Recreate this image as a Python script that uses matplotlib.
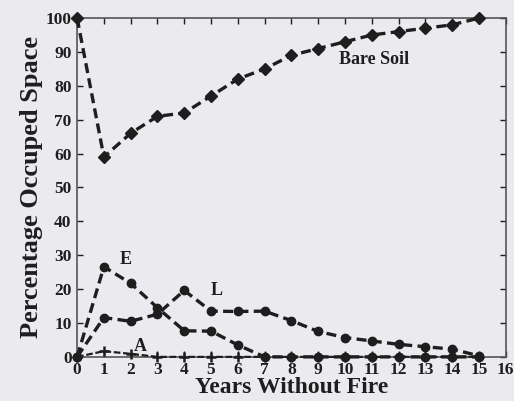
import matplotlib
matplotlib.use("Agg")
import matplotlib.pyplot as plt

years = list(range(0, 16))
bare_soil = [100, 59, 66, 71, 72, 77, 82, 85, 89, 91, 93, 95, 96, 97, 98, 100]
series_e = [0, 26.6, 21.7, 14.5, 7.7, 7.6, 3.5, 0, 0, 0, 0, 0, 0, 0, 0, 0]
series_l = [0, 11.6, 10.5, 12.6, 19.6, 13.5, 13.4, 13.5, 10.7, 7.5, 5.7, 4.7, 3.7, 3.0, 2.3, 0.3]
series_a = [0, 1.7, 0.9, 0, 0, 0, 0, 0, 0, 0, 0, 0, 0, 0, 0, 0]

x_ticks = list(range(0, 17))
y_ticks = list(range(0, 101, 10))

bg = "#ebebef"
ink = "#1e1e1e"
plt.rcParams['font.family'] = ['Liberation Serif', 'DejaVu Serif']
plt.rcParams['font.weight'] = 'bold'

fig = plt.figure(figsize=(5.14, 4.01), dpi=100, facecolor=bg)
ax = fig.add_axes([0.15, 0.11, 0.834, 0.845])
ax.set_facecolor(bg)

dash = (3, 1.6)
ax.plot(years, bare_soil, linestyle='--', dashes=dash, color=ink, lw=2.4,
        marker='D', ms=6, mfc=ink, mec=ink, clip_on=False, zorder=3)
ax.plot(years, series_e, linestyle='--', dashes=dash, color=ink, lw=2.4,
        marker='o', ms=6, mfc=ink, mec=ink, clip_on=False, zorder=3)
ax.plot(years, series_l, linestyle='--', dashes=dash, color=ink, lw=2.4,
        marker='o', ms=6, mfc=ink, mec=ink, clip_on=False, zorder=3)
ax.plot(years, series_a, linestyle='--', dashes=(3, 1.2), color=ink, lw=1.6,
        marker='+', ms=7, mew=1.8, mec=ink, clip_on=False, zorder=4)

ax.set_xlim(0, 16)
ax.set_ylim(0, 100)
ax.set_xticks(x_ticks)
ax.set_yticks(y_ticks)
ax.tick_params(direction='in', top=True, right=True, length=4, width=1,
               labelsize=12.5, colors=ink)
ax.tick_params(axis='x', pad=4)
ax.tick_params(axis='y', pad=4)
for lab in ax.get_xticklabels() + ax.get_yticklabels():
    lab.set_fontweight('bold')
for sp in ax.spines.values():
    sp.set_color("#555555")
    sp.set_linewidth(1.2)

ax.set_xlabel("Years Without Fire", fontsize=17, fontweight='bold', color=ink, labelpad=-1)
ax.set_ylabel("Percentage Occuped Space", fontsize=19, fontweight='bold', color=ink, labelpad=2)

ax.text(11.1, 87.7, "Bare Soil", fontsize=13, fontweight='bold', color=ink, ha='center', va='center')
ax.text(1.8, 28.6, "E", fontsize=13, fontweight='bold', color=ink, ha='center', va='center')
ax.text(5.2, 19.6, "L", fontsize=13, fontweight='bold', color=ink, ha='center', va='center')
ax.text(2.35, 3.0, "A", fontsize=13, fontweight='bold', color=ink, ha='center', va='center')

fig.savefig("out.png", dpi=100, facecolor=bg)
